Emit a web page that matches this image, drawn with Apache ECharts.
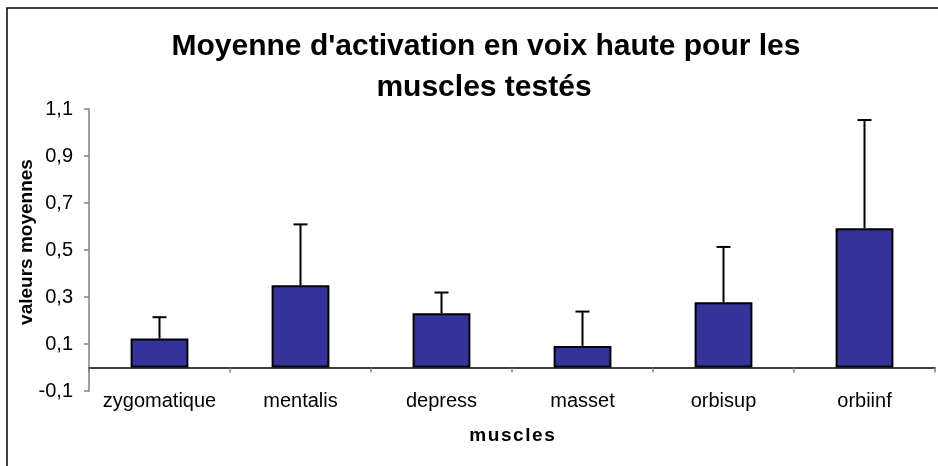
<!DOCTYPE html>
<html>
<head>
<meta charset="utf-8">
<script src="https://cdn.jsdelivr.net/npm/echarts@6/dist/echarts.min.js"></script>
<style>html,body{margin:0;padding:0;background:#fff}#c{width:938px;height:466px}</style>
</head>
<body>
<div id="c"></div>
<script>
const categories = ['zygomatique', 'mentalis', 'depress', 'masset', 'orbisup', 'orbiinf'];
const means = [0.123, 0.350, 0.231, 0.092, 0.278, 0.593];
const errors = [0.091, 0.259, 0.088, 0.146, 0.235, 0.460];
const titleLines = ["Moyenne d'activation en voix haute pour les", "muscles testés"];
const yName = 'valeurs moyennes';
const xName = 'muscles';

const FONT = '"Liberation Sans", Arial, sans-serif';
const chart = echarts.init(document.getElementById('c'), null, {renderer: 'canvas'});

const errData = means.map((m, i) => [i, m, m + errors[i]]);

chart.setOption({
  animation: false,
  backgroundColor: '#ffffff',
  grid: {left: 89, right: 3, top: 109, bottom: 75, containLabel: false},
  graphic: [
    {type: 'rect', shape: {x: 7, y: 8, width: 960, height: 480}, style: {fill: 'none', stroke: '#000', lineWidth: 1.5}, silent: true, z: -10},
    {type: 'text', x: 486, y: 47, style: {text: titleLines[0], font: 'bold 30px ' + FONT, fill: '#000', textAlign: 'center', textVerticalAlign: 'middle'}},
    {type: 'text', x: 484, y: 88, style: {text: titleLines[1], font: 'bold 30px ' + FONT, fill: '#000', textAlign: 'center', textVerticalAlign: 'middle'}},
    {type: 'text', x: 512, y: 436, style: {text: xName.split('').join('\u200A'), font: 'bold 19px ' + FONT, fill: '#000', textAlign: 'center', textVerticalAlign: 'middle'}},
    {type: 'text', x: 27, y: 242, rotation: Math.PI / 2, style: {text: yName, font: 'bold 19px ' + FONT, fill: '#000', textAlign: 'center', textVerticalAlign: 'middle'}}
  ],
  xAxis: [
    {
      type: 'category', data: categories, position: 'bottom',
      axisLine: {onZero: true, lineStyle: {color: '#000', width: 1.5}},
      axisTick: {show: true, length: 5, interval: 0, lineStyle: {color: '#808080', width: 1.5}},
      axisLabel: {show: false},
      splitLine: {show: false}
    },
    {
      type: 'category', data: categories, position: 'bottom',
      axisLine: {show: false, onZero: false},
      axisTick: {show: false},
      axisLabel: {show: true, interval: 0, margin: 0, color: '#000', fontSize: 20, fontFamily: FONT, verticalAlign: 'top'},
      splitLine: {show: false}
    }
  ],
  yAxis: {
    type: 'value', min: -0.1, max: 1.1, interval: 0.2,
    axisLine: {show: true, lineStyle: {color: '#808080', width: 1.5}},
    axisTick: {show: true, length: 5, lineStyle: {color: '#808080', width: 1.5}},
    axisLabel: {margin: 16, color: '#000', fontSize: 20, fontFamily: FONT,
      formatter: v => (Math.round(v * 10) / 10).toFixed(1).replace('.', ',')},
    splitLine: {show: false}
  },
  series: [
    {
      type: 'bar', data: means, xAxisIndex: 0, barWidth: '41%',
      itemStyle: {color: '#333399', borderColor: '#000', borderWidth: 2}
    },
    {
      type: 'custom', xAxisIndex: 0, data: errData, z: 3,
      renderItem: function (params, api) {
        const i = api.value(0);
        const p0 = api.coord([i, api.value(1)]);
        const p1 = api.coord([i, api.value(2)]);
        const hw = 7;
        return {
          type: 'group',
          children: [
            {type: 'line', shape: {x1: p0[0], y1: p0[1], x2: p1[0], y2: p1[1]}, style: {stroke: '#000', lineWidth: 2}},
            {type: 'line', shape: {x1: p1[0] - hw, y1: p1[1], x2: p1[0] + hw, y2: p1[1]}, style: {stroke: '#000', lineWidth: 2}}
          ]
        };
      }
    }
  ]
});
</script>
</body>
</html>
